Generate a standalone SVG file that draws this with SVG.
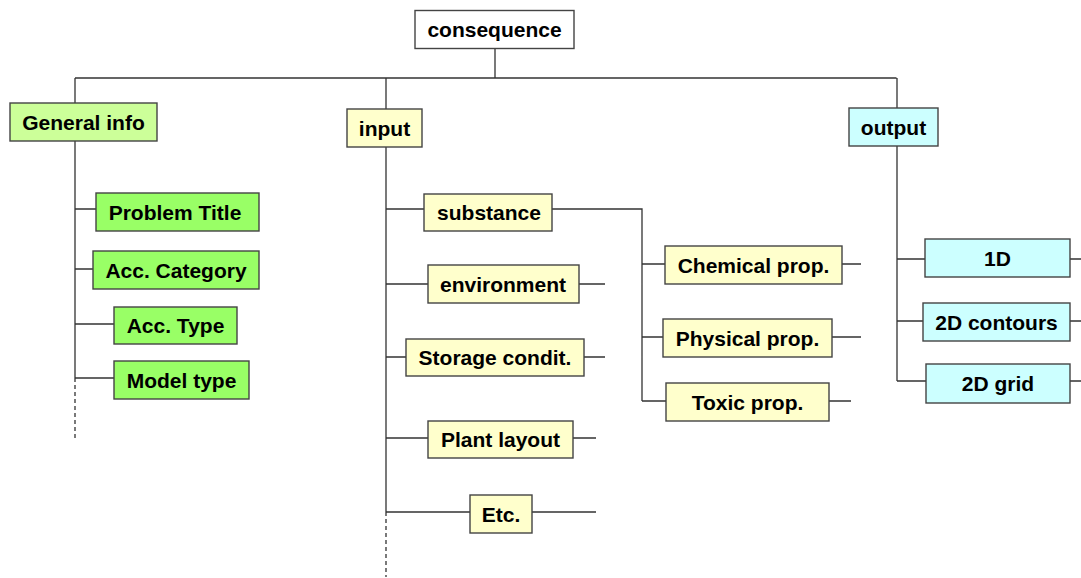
<svg xmlns="http://www.w3.org/2000/svg" width="1081" height="578" viewBox="0 0 1081 578">
<style>
.box{stroke:#444;stroke-width:1.4}
.root{fill:#ffffff}
.gi{fill:#ccff99}
.gc{fill:#99ff66}
.in{fill:#ffffcc}
.out{fill:#ccffff}
text{font-family:"Liberation Sans",Arial,sans-serif;font-weight:bold;font-size:21px;fill:#000;text-anchor:middle}
.ln{stroke:#333;stroke-width:1.3;fill:none}
.dash{stroke:#333;stroke-width:1.3;fill:none;stroke-dasharray:4 3}
</style>
<rect width="1081" height="578" fill="#ffffff"/>
<g id="connectors">
<path class="ln" d="M495 49V78M75 78H896.5M75 78V378M386 78V512M897 78V381"/>
<path class="dash" d="M75 378V440M386 512V577"/>
<path class="ln" d="M75 209H96M75 269H93M75 324H114M75 378H114"/>
<path class="ln" d="M386 209H424M386 284H428M386 357H406M386 438H428M386 512H470"/>
<path class="ln" d="M552 209H642V401M579 284H605M584 357H605M573 438H596M532 512H596"/>
<path class="ln" d="M642 264H665M642 337H663M642 401H666M842 264H861M832 337H861M829 401H851"/>
<path class="ln" d="M897 259H925M897 321H923M897 381H926M1070 259H1081M1070 321H1081M1070 381H1081"/>
</g>
<g id="consequence"><rect class="box root" x="415" y="10.5" width="159" height="38"/><text x="494.5" y="37">consequence</text></g>
<g id="general-info"><rect class="box gi" x="10" y="103" width="147" height="38"/><text x="83.5" y="129.5">General info</text></g>
<g id="problem-title"><rect class="box gc" x="96" y="193" width="163" height="38"/><text x="175" y="219.5">Problem Title</text></g>
<g id="acc-category"><rect class="box gc" x="93" y="251" width="166" height="38"/><text x="176" y="277.5">Acc. Category</text></g>
<g id="acc-type"><rect class="box gc" x="114" y="307" width="123" height="37"/><text x="175.5" y="333">Acc. Type</text></g>
<g id="model-type"><rect class="box gc" x="114" y="361" width="135" height="38"/><text x="181.5" y="387.5">Model type</text></g>
<g id="input"><rect class="box in" x="347" y="109" width="75" height="38"/><text x="384.5" y="135.5">input</text></g>
<g id="substance"><rect class="box in" x="424" y="194" width="128" height="37"/><text x="489" y="220">substance</text></g>
<g id="environment"><rect class="box in" x="428" y="265" width="151" height="38"/><text x="503" y="291.5">environment</text></g>
<g id="storage-condit"><rect class="box in" x="406" y="339" width="178" height="37"/><text x="495" y="365">Storage condit.</text></g>
<g id="plant-layout"><rect class="box in" x="428" y="421" width="145" height="37"/><text x="500.5" y="447">Plant layout</text></g>
<g id="etc"><rect class="box in" x="470" y="495" width="62" height="38"/><text x="501" y="521.5">Etc.</text></g>
<g id="chemical-prop"><rect class="box in" x="665" y="246" width="177" height="38"/><text x="753.5" y="272.5">Chemical prop.</text></g>
<g id="physical-prop"><rect class="box in" x="663" y="319" width="169" height="38"/><text x="747.5" y="345.5">Physical prop.</text></g>
<g id="toxic-prop"><rect class="box in" x="666" y="383" width="163" height="38"/><text x="747.5" y="409.5">Toxic prop.</text></g>
<g id="output"><rect class="box out" x="849" y="108" width="89" height="38"/><text x="893.5" y="134.5">output</text></g>
<g id="d1"><rect class="box out" x="925" y="239" width="145" height="38"/><text x="997.5" y="265.5">1D</text></g>
<g id="d2-contours"><rect class="box out" x="923" y="303" width="147" height="38"/><text x="996.5" y="329.5">2D contours</text></g>
<g id="d2-grid"><rect class="box out" x="926" y="364" width="144" height="39"/><text x="998" y="391">2D grid</text></g>
</svg>
